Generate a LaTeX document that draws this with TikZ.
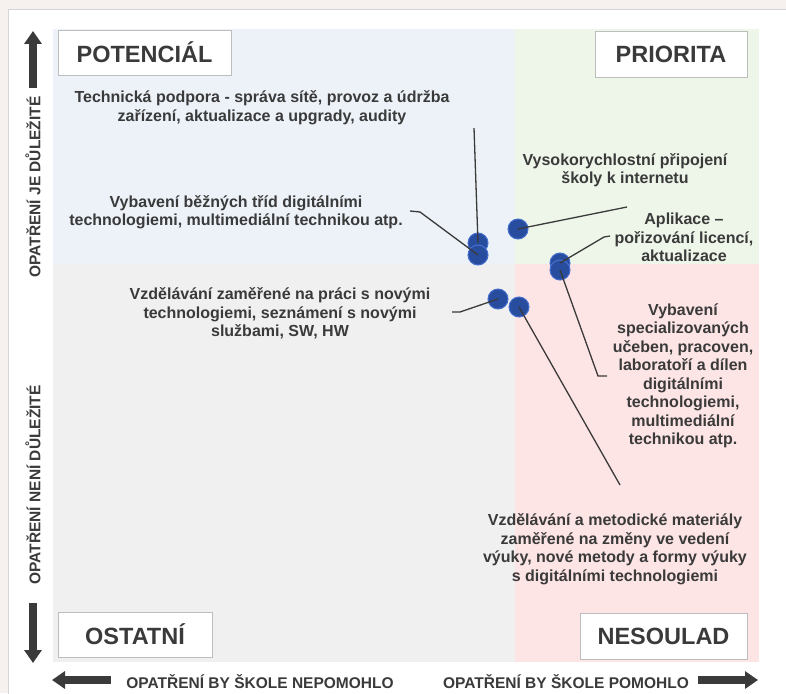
\documentclass[tikz,border=0pt]{standalone}
\usepackage{fontspec}
\setmainfont{Liberation Sans}
\usetikzlibrary{arrows.meta}
\definecolor{outerbg}{HTML}{F6F1EE}
\definecolor{panelline}{HTML}{D6D6D6}
\definecolor{qblue}{HTML}{EDF2F9}
\definecolor{qgreen}{HTML}{EEF6EA}
\definecolor{qgray}{HTML}{F0F0F0}
\definecolor{qpink}{HTML}{FDE4E5}
\definecolor{txt}{HTML}{3A3A3A}
\definecolor{arr}{HTML}{3A3A3A}
\definecolor{dotfill}{HTML}{284C9E}
\definecolor{dotedge}{HTML}{4670D0}
\definecolor{boxline}{HTML}{BDBDBD}
\begin{document}
\begin{tikzpicture}[x=1pt,y=-1pt,
  titlebox/.style={draw=boxline,line width=0.8pt,fill=white,text=txt,
    font=\bfseries\fontsize{23.5}{26}\selectfont,inner sep=0pt},
  lbl/.style={align=center,text=txt,inner sep=0pt,
    font=\bfseries\fontsize{16}{18.5}\selectfont},
  axislbl/.style={text=txt,inner sep=0pt,font=\bfseries\fontsize{15.5}{17}\selectfont},
  dot/.style={circle,fill=dotfill,draw=dotedge,line width=1pt,minimum size=20pt,inner sep=0pt},
  conn/.style={draw=txt,line width=1.3pt},
  bigarrow/.style={draw=arr,line width=7.5pt,-{Triangle[length=13pt,width=17pt]}}
]
\useasboundingbox (0,0) rectangle (786,693);
\fill[outerbg] (0,0) rectangle (786,693);
\draw[panelline,fill=white,line width=1pt] (8,10) rectangle (800,710);
% quadrants
\fill[qblue]  (53,29) rectangle (515,264);
\fill[qgreen] (515,29) rectangle (759,264);
\fill[qgray]  (53,264) rectangle (515,662);
\fill[qpink]  (515,264) rectangle (759,662);
% title boxes
\node[titlebox,minimum width=173pt,minimum height=45pt] (pot) at (144.5,52.5) {POTENCIÁL};
\node[titlebox,minimum width=152pt,minimum height=46pt] (pri) at (671,54) {PRIORITA};
\node[titlebox,minimum width=154pt,minimum height=45pt] (ost) at (135,634.5) {OSTATNÍ};
\node[titlebox,minimum width=167pt,minimum height=46pt] (nes) at (663.5,636) {NESOULAD};
% axis arrows
\coordinate (upA) at (33,88); \coordinate (upB) at (33,31);
\coordinate (dnA) at (33,603); \coordinate (dnB) at (33,663);
\coordinate (lfA) at (111,680); \coordinate (lfB) at (52,680);
\coordinate (rtA) at (698,680); \coordinate (rtB) at (758,680);
\draw[bigarrow] (upA) -- (upB);
\draw[bigarrow] (dnA) -- (dnB);
\draw[bigarrow] (lfA) -- (lfB);
\draw[bigarrow] (rtA) -- (rtB);
% axis labels
\node[axislbl,rotate=90] (yimp) at (33,187) {OPATŘENÍ JE DŮLEŽITÉ};
\node[axislbl,rotate=90] (ynot) at (33,485) {OPATŘENÍ NENÍ DŮLEŽITÉ};
\node[axislbl] (xno) at (260,682) {OPATŘENÍ BY ŠKOLE NEPOMOHLO};
\node[axislbl] (xyes) at (566,682) {OPATŘENÍ BY ŠKOLE POMOHLO};
% labels
\node[lbl] (tech) at (262,107.5) {Technická podpora - správa sítě, provoz a údržba\\zařízení, aktualizace a upgrady, audity};
\node[lbl] (vys) at (625,170) {Vysokorychlostní připojení\\školy k internetu};
\node[lbl] (bez) at (236,212) {Vybavení běžných tříd digitálními\\technologiemi, multimediální technikou atp.};
\node[lbl] (apl) at (684,237.5) {Aplikace –\\pořizování licencí,\\aktualizace};
\node[lbl] (vzz) at (280,313.5) {Vzdělávání zaměřené na práci s novými\\technologiemi, seznámení s novými\\službami, SW, HW};
\node[lbl] (spec) at (683,376) {Vybavení\\specializovaných\\učeben, pracoven,\\laboratoří a dílen\\digitálními\\technologiemi,\\multimediální\\technikou atp.};
\node[lbl] (met) at (615,549) {Vzdělávání a metodické materiály\\zaměřené na změny ve vedení\\výuky, nové metody a formy výuky\\s digitálními technologiemi};
% dots
\node[dot] (dA) at (478,243) {};
\node[dot] (dB) at (478,255) {};
\node[dot] (dC) at (518,229) {};
\node[dot] (dD1) at (560,263) {};
\node[dot] (dD2) at (560,270) {};
\node[dot] (dE) at (498,299) {};
\node[dot] (dF) at (519,307) {};
% connector ends
\coordinate (cTech) at (474,128);
\coordinate (cBez1) at (410,211); \coordinate (cBez2) at (420,212);
\coordinate (cVys) at (627,207);
\coordinate (cApl1) at (610,236); \coordinate (cApl2) at (604,237);
\coordinate (cSpec1) at (607,376); \coordinate (cSpec2) at (598,376);
\coordinate (cVzz1) at (452,312); \coordinate (cVzz2) at (460,312);
\coordinate (cMet) at (620,485);
% connectors
\draw[conn] (cTech) -- (dA.center);
\draw[conn] (cBez1) -- (cBez2) -- (dB.center);
\draw[conn] (cVys) -- (dC.center);
\draw[conn] (cApl1) -- (cApl2) -- (dD1.center);
\draw[conn] (cSpec1) -- (cSpec2) -- (dD2.center);
\draw[conn] (cVzz1) -- (cVzz2) -- (dE.center);
\draw[conn] (cMet) -- (dF.center);
\end{tikzpicture}
\end{document}
